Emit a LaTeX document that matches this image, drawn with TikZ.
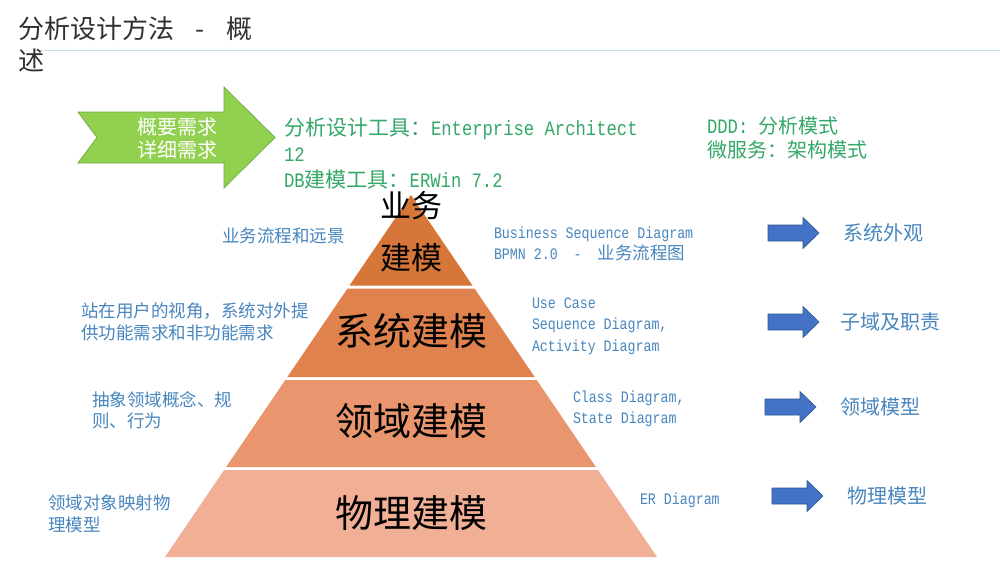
\documentclass[tikz,border=0pt]{standalone}
\usepackage{fontspec}
\usepackage{graphicx}
\setmainfont{Noto Sans CJK SC}
\newfontfamily\monofont{Liberation Mono}
\newcommand\latg[1]{\scalebox{0.84}[1]{\fontsize{20.5}{26}\selectfont\monofont #1}}
\newcommand\latb[1]{\scalebox{0.83}[1]{\fontsize{16}{21.5}\selectfont\monofont #1}}
\definecolor{txtblue}{RGB}{72,134,190}
\definecolor{txtgreen}{RGB}{52,168,104}
\definecolor{bandA}{RGB}{214,118,56}
\definecolor{bandB}{RGB}{224,130,78}
\definecolor{bandC}{RGB}{233,150,110}
\definecolor{bandD}{RGB}{241,175,150}
\definecolor{arrowblue}{RGB}{68,114,196}
\definecolor{arrowblueline}{RGB}{47,85,151}
\definecolor{lightgreen}{RGB}{146,208,80}
\definecolor{greenline}{RGB}{112,173,71}
\definecolor{ruleblue}{RGB}{200,224,238}
\definecolor{titlegray}{RGB}{48,48,48}
\tikzset{
  every node/.style={inner sep=0pt, outer sep=0pt},
  titletxt/.style={text=titlegray, font=\fontsize{26}{32}\selectfont, align=left, anchor=west},
  bluetxt/.style={text=txtblue, font=\fontsize{17.5}{21.5}\selectfont, align=left, anchor=west},
  greentxt/.style={text=txtgreen, font=\fontsize{21}{26}\selectfont, align=left, anchor=west},
  ddtxt/.style={text=txtgreen, font=\fontsize{20}{24}\selectfont, align=left, anchor=west},
  outtxt/.style={text=txtblue, font=\fontsize{20}{24}\selectfont, anchor=west},
  arrowtxt/.style={text=white, font=\fontsize{20}{23}\selectfont, align=center},
  pyrbig/.style={text=black, font=\fontsize{38}{44}\selectfont},
  pyrsmall/.style={text=black, font=\fontsize{31}{36}\selectfont},
  bluearrowpic/.pic={
    \path[fill=arrowblue, draw=arrowblueline, line width=0.6pt]
      (0,-8) -- (35,-8) -- (35,-15.5) -- (51,0) -- (35,15.5) -- (35,8) -- (0,8) -- cycle;
  }
}
\begin{document}
\begin{tikzpicture}[x=1pt,y=-1pt]
\path[fill=white] (0,0) rectangle (1000,562);
\useasboundingbox (0,0) rectangle (1000,562);

% title and rule
\draw[ruleblue, line width=0.8pt] (35,50) -- (1000,50);
\node[titletxt] (title) at (18,44) {分析设计方法\hspace{22pt}-\hspace{21pt}概\\述};

% green arrow
\path[fill=lightgreen, draw=greenline, line width=0.8pt]
  (78,112) -- (224,112) -- (224,87) -- (275,137.5) -- (224,188) -- (224,163) -- (78,163) -- (97,137.5) -- cycle;
\node[arrowtxt] (req) at (177,138.5) {概要需求\\详细需求};

% green texts
\node[greentxt] (tools) at (284,154) {分析设计工具：\latg{Enterprise Architect}\\\latg{12}\\\latg{DB}建模工具：\latg{ERWin 7.2}};
\node[ddtxt] (ddd) at (707,138) {\latg{DDD:\ }分析模式\\微服务：架构模式};

% pyramid
\path[fill=bandA] (411,195) -- (472.5,285.5) -- (349.5,285.5) -- cycle;
\path[fill=bandB] (347.5,288.5) -- (474.5,288.5) -- (534.7,377) -- (287.3,377) -- cycle;
\path[fill=bandC] (285.3,380) -- (536.7,380) -- (595.9,467) -- (226.1,467) -- cycle;
\path[fill=bandD] (224.1,470) -- (597.9,470) -- (657,557) -- (165,557) -- cycle;
\node[pyrsmall] (biz1) at (411,206) {业务};
\node[pyrsmall] (biz2) at (411,258) {建模};
\node[pyrbig] (sys) at (411,331) {系统建模};
\node[pyrbig] (dom) at (411,421) {领域建模};
\node[pyrbig] (phy) at (411,513) {物理建模};

% left descriptions
\node[bluetxt] (bizleft) at (222,236) {业务流程和远景};
\node[bluetxt] (sysleft) at (81,322) {站在用户的视角，系统对外提\\供功能需求和非功能需求};
\node[bluetxt] (domleft) at (92,410) {抽象领域概念、规\\则、行为};
\node[bluetxt] (phyleft) at (48,514) {领域对象映射物\\理模型};

% right diagrams
\node[bluetxt] (bizright) at (494,244) {\latb{Business Sequence Diagram}\\\latb{BPMN 2.0\ \ -\ \ }业务流程图};
\node[bluetxt] (sysright) at (532,326) {\latb{Use Case}\\\latb{Sequence Diagram,}\\\latb{Activity Diagram}};
\node[bluetxt] (domright) at (573,409) {\latb{Class Diagram,}\\\latb{State Diagram}};
\node[bluetxt] (phyright) at (640,500) {\latb{ER Diagram}};

% outputs
\pic (arrA) at (768,233) {bluearrowpic};
\pic (arrB) at (768,322) {bluearrowpic};
\pic (arrC) at (765,407) {bluearrowpic};
\pic (arrD) at (772,496) {bluearrowpic};
\node[outtxt] (outA) at (843,233) {系统外观};
\node[outtxt] (outB) at (840,322) {子域及职责};
\node[outtxt] (outC) at (840,407) {领域模型};
\node[outtxt] (outD) at (847,496) {物理模型};
\end{tikzpicture}
\end{document}
